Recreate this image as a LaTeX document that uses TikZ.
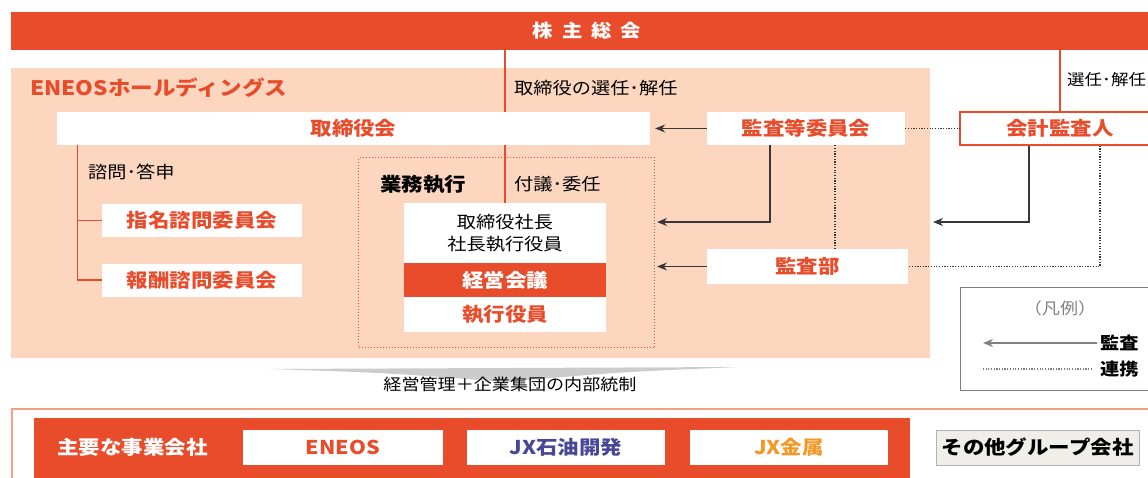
\documentclass[tikz,border=0pt]{standalone}
\usepackage{fontspec}
\setmainfont{Noto Sans CJK JP}[FakeStretch=1.13]
\usepackage{xcolor}
\usepackage{tikz}
\usetikzlibrary{arrows.meta, positioning, calc}
\definecolor{eneos}{RGB}{232, 76, 43}
\definecolor{peach}{RGB}{253, 214, 192}
\definecolor{paleline}{RGB}{244, 160, 130}
\definecolor{jxblue}{RGB}{72, 72, 150}
\definecolor{jxorange}{RGB}{243, 152, 40}
\definecolor{darkline}{RGB}{55, 55, 55}
\definecolor{otherfill}{RGB}{240, 238, 232}
\tikzstyle{unitbox} = [rectangle, fill=white, minimum height=33pt, inner sep=0pt, text centered, text=eneos, font=\bfseries\fontsize{19}{21}\selectfont]
\tikzstyle{notetext} = [anchor=west, inner sep=0pt, text=black, font=\fontsize{17}{19}\selectfont]
\tikzstyle{orgline} = [eneos, line width=1.2pt]
\tikzstyle{auditarrow} = [darkline, line width=1.4pt, -{Stealth[length=10pt,width=8pt]}]
\tikzstyle{linkline} = [darkline, line width=1.4pt, dash pattern=on 1.2pt off 1.5pt]

\begin{document}
\begin{tikzpicture}[x=1pt, y=-1pt]
    \useasboundingbox (0,0) rectangle (1148,477);
    \clip (0,0) rectangle (1148,477);

    % shareholders and holding company
    \node[rectangle, fill=eneos, minimum width=1152pt, minimum height=38pt, inner sep=0pt, text=white, font=\bfseries\fontsize{18}{20}\selectfont] (gm) at (587,31) {株\hspace{9pt}主\hspace{9pt}総\hspace{9pt}会};
    \node[rectangle, fill=peach, minimum width=919pt, minimum height=290pt, inner sep=0pt, anchor=north west] (hd) at (11,68) {};
    \node[notetext, text=eneos, font=\bfseries\fontsize{20}{22}\selectfont] (hdname) at (30,88) {ENEOSホールディングス};
    \node[notetext] (elect) at (514,88) {取締役の選任･解任};
    \node[notetext, font=\fontsize{15.5}{18}\selectfont] (elect2) at (1067,80) {選任･解任};

    \node[unitbox, minimum width=593pt] (board) at (353.5,128.5) {取締役会};
    \node[unitbox, minimum width=198pt] (acc) at (806,128.5) {監査等委員会};
    \node[unitbox, draw=eneos, line width=1.2pt, minimum width=200pt] (auditor) at (1060,128.5) {会計監査人};

    \node[notetext] (consult) at (88,172) {諮問･答申};
    \node[unitbox, minimum width=200pt] (nom) at (202,220.5) {指名諮問委員会};
    \node[unitbox, minimum width=200pt] (rem) at (202,280) {報酬諮問委員会};

    % business execution
    \node[rectangle, draw=eneos, dotted, line width=1pt, minimum width=296pt, minimum height=190pt, inner sep=0pt, anchor=north west] (exec) at (358,157) {};
    \node[notetext, font=\bfseries\fontsize{19}{21}\selectfont] (execname) at (380,184) {業務執行};
    \node[notetext] (delegate) at (514,184) {付議･委任};
    \node[unitbox, minimum width=202pt, minimum height=60pt, text=black, align=center, font=\fontsize{17}{22}\selectfont] (pres) at (505,233) {取締役社長\\社長執行役員};
    \node[unitbox, fill=eneos, text=white, minimum width=202pt, minimum height=34pt] (mgmt) at (505,280) {経営会議};
    \node[unitbox, minimum width=202pt, minimum height=35pt] (officers) at (505,314.5) {執行役員};
    \node[unitbox, minimum width=201pt, minimum height=35pt] (iad) at (807.5,266.5) {監査部};

    \draw[orgline] (gm.south -| pres.north) -- (board.north -| pres.north);
    \draw[orgline] (board.south -| pres.north) -- (pres.north);
    \draw[orgline] (gm.south -| auditor.north) -- (auditor.north);
    \coordinate (trunk) at ($(board.south west)+(21,0)$);
    \draw[orgline] (trunk) |- (rem.west);
    \draw[orgline] (trunk |- nom.west) -- (nom.west);

    \coordinate (execA) at (657,222);
    \coordinate (hdA) at (933,222);
    \coordinate (accdot) at ($(acc.south)+(29,0)$);
    \draw[auditarrow] (acc.west) -- ([xshift=5pt]board.east);
    \draw[auditarrow] ($(acc.south)+(-36,0)$) |- (execA);
    \draw[auditarrow] (iad.west) -- (execA |- iad.west);
    \draw[auditarrow] ($(auditor.south)+(-31,0)$) |- (hdA);
    \draw[linkline] (acc.east) -- (auditor.west);
    \draw[linkline] (accdot) -- (accdot |- iad.north);
    \draw[linkline] ($(auditor.south)+(40,0)$) |- (iad.east);

    % legend
    \node[rectangle, draw=gray, line width=1pt, minimum width=200pt, minimum height=103pt, inner sep=0pt, anchor=north west] (legend) at (960,287) {};
    \node[text=gray, font=\fontsize{16}{18}\selectfont] (legendname) at (1060,308) {（凡例）};
    \node[notetext, font=\bfseries\fontsize{17}{19}\selectfont] (lgaudit) at (1100,343) {監査};
    \node[notetext, font=\bfseries\fontsize{17}{19}\selectfont] (lglink) at (1100,369) {連携};
    \coordinate (lgA) at (983,343);
    \coordinate (lgB) at (983,369);
    \draw[auditarrow, draw=gray] ([xshift=-3pt]lgaudit.west) -- (lgA);
    \draw[linkline, gray] ([xshift=-8pt]lglink.west) -- (lgB);

    % internal control
    \fill[gray!40] (270,369) -- (740,367) .. controls (620,372) .. (505,382) .. controls (390,373) .. (270,369);
    \node[font=\fontsize{16}{18}\selectfont] (ctrl) at (510,384) {経営管理＋企業集団の内部統制};

    % group companies
    \node[rectangle, draw=paleline, line width=1.5pt, minimum width=1160pt, minimum height=90pt, inner sep=0pt, anchor=north west] (group) at (11,408) {};
    \node[rectangle, fill=eneos, minimum width=876pt, minimum height=70pt, inner sep=0pt, anchor=north west] (core) at (34,418) {};
    \node[notetext, text=white, font=\bfseries\fontsize{19}{21}\selectfont] (corename) at (57,447) {主要な事業会社};
    \node[unitbox, minimum width=200pt, minimum height=35pt] (eneos) at (343,447.5) {ENEOS};
    \node[unitbox, minimum width=198pt, minimum height=35pt, text=jxblue] (jxoil) at (566,447.5) {JX石油開発};
    \node[unitbox, minimum width=198pt, minimum height=35pt, text=jxorange] (jxmetal) at (789,447.5) {JX金属};
    \node[unitbox, minimum width=203pt, minimum height=35pt, fill=otherfill, draw=gray!60, text=black] (others) at (1037.5,447.5) {その他グループ会社};
\end{tikzpicture}
\end{document}
